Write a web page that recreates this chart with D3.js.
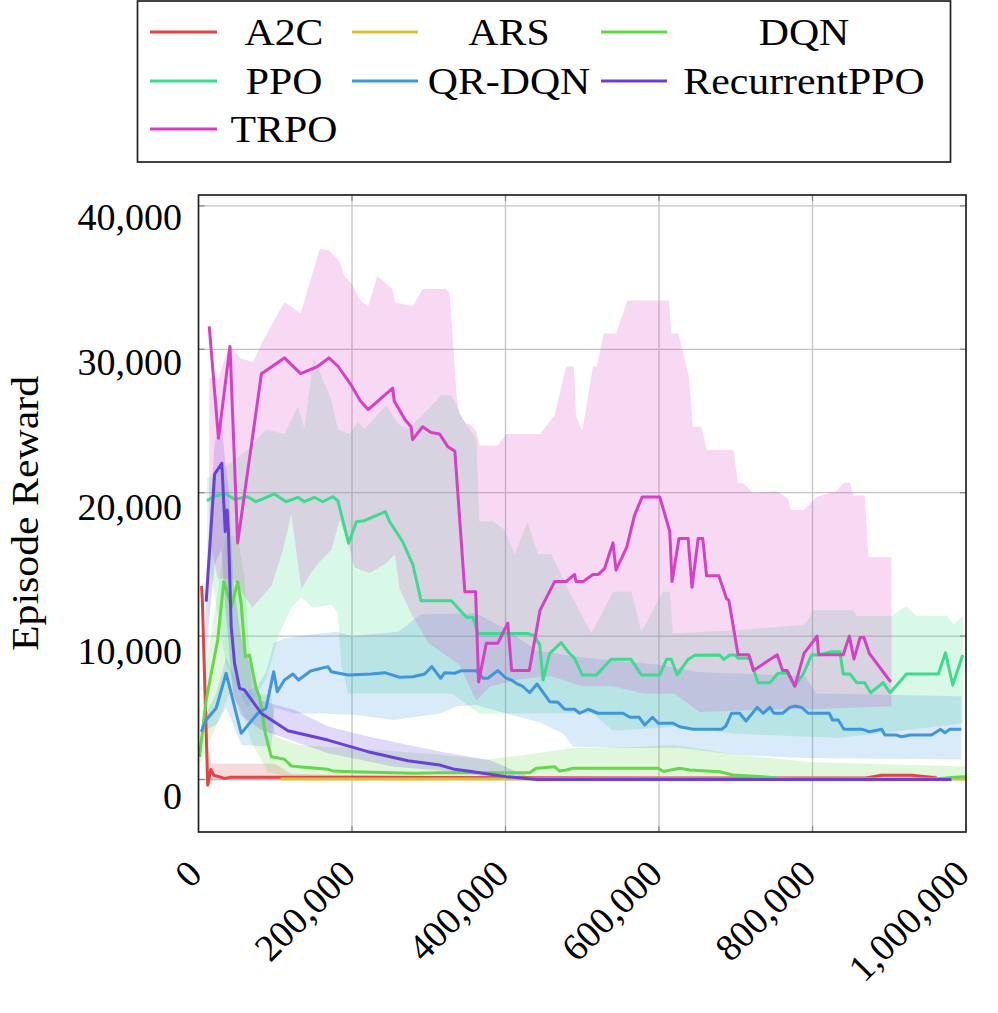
<!DOCTYPE html>
<html>
<head>
<meta charset="utf-8">
<script src="https://d3js.org/d3.v7.min.js"></script>
<style>
  body { margin: 0; background: #fff; }
  text { font-family: "Liberation Serif", serif; fill: #000; }
</style>
</head>
<body>
<div id="chart"></div>
<script>
// ---- data (environment steps, episode reward) ----
const seriesNames = ['A2C', 'ARS', 'DQN', 'PPO', 'QR-DQN', 'RecurrentPPO', 'TRPO'];
const seriesColors = ['#e04444', '#dcc03c', '#62d84a', '#3ddb8e', '#3f96dc', '#6a40da', '#d83fc4'];

const xTicks = [0, 200000, 400000, 600000, 800000, 1000000];
const yTicks = [0, 10000, 20000, 30000, 40000];

// A2C
const a2cX = [4000, 5000, 12000, 16000, 20000, 34000, 41000, 56000, 200000, 600000, 870000, 890000, 930000, 962000];
const a2cY = [13500, 12500, -400, 700, 300, 80, 150, 150, 150, 100, 100, 300, 300, 100];
const a2cUpX = [4000, 12000, 16000, 20000, 100000, 120000, 200000, 600000, 870000, 890000, 962000];
const a2cUpY = [13500, 2500, 1200, 1100, 1100, 400, 300, 200, 200, 400, 300];
const a2cLoX = [4000, 12000, 20000, 962000];
const a2cLoY = [13500, -500, 0, 0];

// ARS
const arsX = [107000, 440000, 1000000];
const arsY = [30, 30, 30];
const arsUpX = [107000, 1000000];
const arsUpY = [80, 80];
const arsLoX = [107000, 1000000];
const arsLoY = [0, 0];

// DQN
const dqnX = [1300, 10000, 25000, 33000, 43000, 51000, 55600, 61000, 66500, 75000, 79500, 87000, 94800, 112000, 120800, 134000, 168600, 175000, 199000, 281600, 314000, 431500, 440000, 449000, 464000, 470000, 479000, 488000, 599000, 605700, 627000, 640000, 679000, 696600, 735700, 757500, 780000, 960000, 985000, 1000000];
const dqnY = [1590, 5540, 9730, 13790, 12050, 13790, 12290, 8560, 8680, 6360, 5770, 3220, 1590, 1410, 940, 870, 710, 600, 540, 430, 470, 470, 780, 820, 890, 600, 660, 780, 780, 560, 780, 660, 540, 310, 200, 80, 0, 30, 150, 200];
const dqnUpX = [1300, 10000, 25000, 35000, 51000, 60000, 70000, 95000, 100000, 130000, 200000, 300000, 375000, 425000, 488000, 540000, 620000, 705000, 800000, 1000000];
const dqnUpY = [2000, 8000, 13000, 17000, 17000, 14000, 6000, 5900, 3000, 2400, 2200, 1800, 1400, 1700, 2200, 2200, 2400, 1700, 1200, 900];
const dqnLoX = [1300, 25000, 40000, 55000, 70000, 90000, 120000, 300000, 1000000];
const dqnLoY = [1000, 4000, 6000, 5000, 2500, 500, 200, 100, 0];

// PPO
const ppoX = [11000, 21000, 36000, 47000, 64000, 75000, 99000, 114000, 129500, 138000, 151000, 162000, 175000, 181600, 195600, 205600, 216000, 243400, 249000, 266000, 279400, 290000, 329500, 349000, 357600, 364000, 429000, 438000, 444600, 449000, 457600, 472600, 481500, 490000, 500000, 518500, 537600, 563500, 577000, 601000, 609800, 616000, 623600, 638000, 646700, 679000, 684500, 692300, 699000, 703300, 718400, 729000, 744500, 755000, 767000, 777000, 788000, 798800, 807500, 825000, 835700, 840000, 848800, 857500, 868000, 875700, 892000, 901000, 922600, 964000, 973300, 982700, 995700];
const ppoY = [19440, 19770, 19910, 19540, 19720, 19370, 19910, 19370, 19680, 19370, 19680, 19370, 19720, 19440, 16470, 17980, 18050, 18680, 17980, 16580, 14960, 12470, 12470, 11310, 11310, 10190, 10190, 10010, 9380, 6940, 8800, 9540, 8910, 8450, 7290, 7290, 8380, 8380, 7290, 7290, 8380, 8380, 7290, 8380, 8660, 8680, 8380, 8680, 8680, 8450, 8450, 6750, 6750, 7410, 7410, 6520, 7360, 8680, 8680, 8910, 8910, 7360, 7360, 6750, 6750, 6050, 6750, 6050, 7360, 7360, 8840, 6590, 8680];
const ppoUpX = [11000, 40000, 64000, 88000, 112000, 129500, 138000, 150000, 173000, 181600, 197000, 207700, 216000, 244700, 259900, 272900, 299000, 316000, 329500, 344600, 353000, 362000, 366000, 384000, 399000, 412000, 429000, 442000, 460000, 482000, 512000, 540000, 564000, 577000, 605000, 614000, 618000, 700000, 790000, 801000, 853000, 858000, 903000, 922000, 935500, 975000, 984000, 996000];
const ppoUpY = [21000, 22000, 23000, 24400, 24100, 26000, 24500, 29400, 26500, 24400, 24100, 25000, 24400, 26100, 24800, 24400, 25800, 26800, 26800, 25100, 24400, 23800, 18000, 18000, 17400, 15700, 18000, 15700, 15700, 13200, 10200, 13100, 13100, 10300, 13100, 13100, 10200, 10400, 10800, 11800, 11800, 11400, 11400, 12100, 11400, 11400, 10800, 11400];
const ppoLoX = [11000, 36000, 64000, 88000, 105600, 120800, 134000, 149000, 173000, 181600, 186000, 195000, 330000, 366000, 514000, 540000, 627000, 697000, 834000, 996000];
const ppoLoY = [16000, 8000, 5000, 7000, 10200, 12000, 12700, 12000, 12200, 11600, 8000, 6000, 6000, 4600, 4600, 3400, 3700, 3200, 2900, 3900];

// QR-DQN
const qrX = [3500, 10000, 23000, 36000, 55700, 77300, 88000, 98000, 102600, 112000, 123000, 130400, 146000, 168600, 173000, 194600, 225000, 242500, 262000, 279400, 294700, 304000, 315500, 320700, 333800, 342500, 362000, 370700, 377000, 390000, 401000, 407700, 414000, 422000, 431500, 441000, 457600, 468500, 477000, 490000, 496700, 507600, 520600, 553000, 562000, 574000, 581500, 591500, 599000, 618400, 627000, 644500, 681500, 687000, 694500, 705000, 713400, 727900, 735700, 744500, 749700, 761000, 770500, 777000, 785800, 794400, 821800, 826000, 833600, 841000, 865300, 874000, 890000, 894400, 909600, 916000, 927000, 955000, 966900, 972600, 979000, 994000];
const qrY = [3330, 4150, 4970, 7410, 3220, 4620, 4970, 7520, 6120, 6940, 7360, 6940, 7570, 7870, 7520, 7290, 7360, 7450, 7130, 7170, 7360, 7870, 7060, 7450, 7410, 7590, 7590, 7060, 7060, 7590, 7060, 6940, 6710, 6520, 6050, 6660, 5430, 5380, 4900, 4900, 4620, 4900, 4620, 4620, 4340, 4340, 3800, 4340, 3920, 3920, 3680, 3500, 3500, 3730, 4620, 4620, 4080, 5030, 4620, 5030, 4620, 4620, 5030, 5120, 5030, 4620, 4620, 4150, 4150, 3500, 3500, 3330, 3500, 3100, 3100, 2980, 3100, 3100, 3500, 3260, 3500, 3500];
const qrUpX = [3500, 10000, 23000, 36000, 56000, 77000, 88000, 98000, 110000, 130000, 180000, 200000, 260000, 290000, 362000, 400000, 440000, 500000, 600000, 650000, 790000, 805000, 994000];
const qrUpY = [3600, 4600, 6000, 8500, 6000, 6500, 7500, 9500, 9800, 10000, 10300, 10000, 10300, 11500, 11600, 10500, 9000, 8500, 8000, 7500, 7200, 6000, 5800];
const qrLoX = [3500, 10000, 23000, 36000, 56000, 95000, 99000, 125000, 162000, 205000, 255000, 314000, 337000, 362000, 401000, 444000, 475000, 488000, 540000, 627000, 705000, 790000, 994000];
const qrLoY = [3000, 3500, 3800, 5000, 2400, 2300, 5000, 4600, 4600, 4500, 4150, 4600, 5100, 5200, 4600, 4000, 3200, 2300, 2200, 2200, 1700, 1500, 1400];

// RecurrentPPO
const rppoX = [10000, 21000, 30400, 34800, 37400, 39000, 42600, 47000, 53500, 60000, 81700, 116500, 168600, 220700, 272900, 314000, 333800, 357600, 401000, 440000, 981000];
const rppoY = [12400, 21300, 22050, 17280, 18790, 17280, 10660, 8100, 6360, 6240, 4620, 3400, 2750, 1940, 1310, 1010, 710, 540, 200, 0, 0];
const rppoUpX = [10000, 21000, 30000, 35000, 40000, 45000, 55000, 82000, 125000, 169000, 221000, 314000, 380000, 436000, 981000];
const rppoUpY = [14000, 23500, 25000, 22000, 20000, 14000, 10000, 5500, 4850, 3700, 3000, 1950, 1350, 50, 50];
const rppoLoX = [10000, 21000, 30000, 35000, 45000, 55000, 82000, 169000, 255000, 334000, 400000, 981000];
const rppoLoY = [9000, 15000, 16000, 12000, 6000, 4500, 3450, 1830, 890, 540, 0, 0];

// TRPO
const trpoX = [14000, 26000, 41000, 51000, 82000, 112000, 133000, 155000, 170000, 182000, 199000, 211000, 221000, 253000, 255000, 269000, 277000, 279000, 292000, 303000, 314000, 325000, 334000, 347000, 361000, 365000, 375000, 390000, 403000, 408000, 431000, 445000, 464000, 479000, 490000, 492000, 501000, 514000, 521000, 529000, 540000, 544000, 558000, 568000, 578000, 601000, 614000, 617000, 626000, 638000, 643000, 651000, 657000, 662000, 678000, 688000, 691000, 703000, 717000, 723000, 754000, 761000, 767000, 777000, 789000, 806000, 808000, 840000, 848000, 854000, 862000, 867000, 874000, 902000];
const trpoY = [31600, 23800, 30200, 16500, 28300, 29400, 28300, 28800, 29400, 28800, 27500, 26400, 25800, 27300, 26400, 25100, 24600, 23700, 24600, 24200, 24100, 23200, 22900, 13100, 13100, 6800, 9500, 9500, 10900, 7600, 7600, 11800, 13800, 13800, 14300, 13800, 13800, 14300, 14300, 14700, 16500, 14600, 16200, 18400, 19700, 19700, 17300, 13800, 16800, 16800, 13400, 16800, 16800, 14200, 14200, 12600, 12500, 8700, 8700, 7600, 8700, 7600, 7600, 6500, 8800, 10000, 8700, 8700, 10000, 8400, 9900, 9900, 8800, 6800];
const trpoUpX = [14000, 26000, 40000, 54000, 71000, 82000, 112000, 133000, 158000, 170000, 184000, 190000, 199000, 211000, 221000, 233000, 253000, 256000, 269000, 279000, 292000, 323000, 327000, 332000, 336000, 340000, 349000, 353000, 362000, 366000, 390000, 401000, 445000, 464000, 479000, 489000, 492000, 500000, 514000, 519000, 528000, 544000, 559000, 613000, 616000, 625000, 639000, 644000, 655000, 662000, 697000, 703000, 709000, 722000, 753000, 768000, 772000, 789000, 805000, 831000, 841000, 849000, 853000, 868000, 873000, 903000];
const trpoUpY = [28000, 28000, 30300, 29400, 29100, 30400, 33300, 32500, 37000, 36900, 36100, 35100, 34600, 33400, 33000, 35100, 34200, 33300, 33100, 33000, 34200, 34200, 33900, 30200, 26900, 25500, 24800, 24800, 24300, 23300, 23300, 24100, 24100, 25400, 28800, 28800, 25300, 24300, 28800, 28800, 31100, 31100, 33400, 33400, 31100, 31100, 28100, 24600, 24600, 23000, 23000, 20700, 20700, 20000, 20100, 19600, 18800, 18800, 19700, 20100, 20700, 20700, 19800, 19800, 15500, 15500];
const trpoLoX = [14000, 25000, 45000, 70000, 95000, 110000, 121000, 134000, 149000, 160000, 173000, 184000, 195000, 203000, 223000, 245000, 256000, 262000, 277000, 300000, 340000, 362000, 380000, 420000, 460000, 500000, 540000, 580000, 620000, 653000, 700000, 750000, 800000, 850000, 903000];
const trpoLoY = [17000, 14000, 14000, 12000, 13500, 16000, 18500, 13300, 14600, 15300, 16000, 18100, 16500, 14800, 14400, 15100, 15700, 13300, 11600, 9500, 8000, 5500, 6500, 7000, 7200, 6500, 6500, 6000, 6000, 4700, 4800, 4900, 4900, 5000, 5100];

const lineXs = [a2cX, arsX, dqnX, ppoX, qrX, rppoX, trpoX];
const lineYs = [a2cY, arsY, dqnY, ppoY, qrY, rppoY, trpoY];
const upXs = [a2cUpX, arsUpX, dqnUpX, ppoUpX, qrUpX, rppoUpX, trpoUpX];
const upYs = [a2cUpY, arsUpY, dqnUpY, ppoUpY, qrUpY, rppoUpY, trpoUpY];
const loXs = [a2cLoX, arsLoX, dqnLoX, ppoLoX, qrLoX, rppoLoX, trpoLoX];
const loYs = [a2cLoY, arsLoY, dqnLoY, ppoLoY, qrLoY, rppoLoY, trpoLoY];

// ---- layout ----
const W = 998, H = 1013;
const plotL = 198.5, plotR = 966, plotT = 195, plotB = 832;
const fontSize = 38;
const lineW = 3;
const widen = 1.1; // letters of the original font run wider

const x = d3.scaleLinear().domain([0, 1000000]).range([plotL, plotR]);
const y = d3.scaleLinear().domain([-3661, 40760]).range([plotB, plotT]);
// tick labels sit on a slightly stretched scale in the original
const yLab = d3.scaleLinear().domain([0, 40000]).range([796.7, 217.5]);

const svg = d3.select('#chart').append('svg')
    .attr('width', W).attr('height', H)
    .style('display', 'block');

svg.append('defs').append('clipPath').attr('id', 'plotclip')
  .append('rect')
    .attr('x', plotL).attr('y', plotT)
    .attr('width', plotR - plotL).attr('height', plotB - plotT);

// grid
const grid = svg.append('g');
grid.selectAll('line.gx')
  .data(xTicks.slice(1, -1))
  .enter().append('line')
    .attr('x1', d => x(d)).attr('x2', d => x(d))
    .attr('y1', plotT).attr('y2', plotB)
    .attr('stroke', '#c4c4c4').attr('stroke-width', 1.3);
grid.selectAll('line.gy')
  .data(yTicks)
  .enter().append('line')
    .attr('x1', plotL).attr('x2', plotR)
    .attr('y1', d => y(d)).attr('y2', d => y(d))
    .attr('stroke', '#c4c4c4').attr('stroke-width', 1.3);

// tick marks (inside, both sides)
const tk = svg.append('g').attr('stroke', '#8a8a8a').attr('stroke-width', 1.3);
xTicks.slice(1, -1).forEach(v => {
  tk.append('line').attr('x1', x(v)).attr('x2', x(v)).attr('y1', plotB).attr('y2', plotB - 6);
  tk.append('line').attr('x1', x(v)).attr('x2', x(v)).attr('y1', plotT).attr('y2', plotT + 6);
});
yTicks.forEach(v => {
  tk.append('line').attr('x1', plotL).attr('x2', plotL + 6).attr('y1', y(v)).attr('y2', y(v));
  tk.append('line').attr('x1', plotR).attr('x2', plotR - 6).attr('y1', y(v)).attr('y2', y(v));
});

const plot = svg.append('g').attr('clip-path', 'url(#plotclip)');

// shaded bands: upper edge forward, lower edge back
const band = d3.line().x(d => x(d[0])).y(d => y(d[1])).curve(d3.curveLinearClosed);
seriesNames.forEach((name, i) => {
  const up = upXs[i].map((v, j) => [v, upYs[i][j]]);
  const lo = loXs[i].map((v, j) => [v, loYs[i][j]]).reverse();
  plot.append('path')
      .attr('d', band(up.concat(lo)))
      .attr('fill', seriesColors[i])
      .attr('fill-opacity', 0.2)
      .attr('stroke', 'none');
});

// mean lines
const line = d3.line().x(d => x(d[0])).y(d => y(d[1]));
seriesNames.forEach((name, i) => {
  const pts = lineXs[i].map((v, j) => [v, lineYs[i][j]]);
  plot.append('path')
      .attr('d', line(pts))
      .attr('fill', 'none')
      .attr('stroke', seriesColors[i])
      .attr('stroke-width', lineW)
      .attr('stroke-linejoin', 'round');
});

// frame
svg.append('rect')
    .attr('x', plotL).attr('y', plotT)
    .attr('width', plotR - plotL).attr('height', plotB - plotT)
    .attr('fill', 'none').attr('stroke', '#222').attr('stroke-width', 1.7);

// y tick labels
const fmt = d3.format(',');
svg.selectAll('text.ylab')
  .data(yTicks)
  .enter().append('text')
    .attr('x', 182)
    .attr('y', d => yLab(d) + 12.5)
    .attr('text-anchor', 'end')
    .style('font-size', fontSize + 'px')
    .text(d => fmt(d));

// x tick labels, rotated 45 deg
svg.selectAll('text.xlab')
  .data(xTicks)
  .enter().append('text')
    .attr('transform', d => `translate(${x(d) + 5.5},876) rotate(-45)`)
    .attr('text-anchor', 'end')
    .style('font-size', fontSize + 'px')
    .text(d => fmt(d));

// stretch a word to the wider look of the original font
function stretch(sel) {
  sel.each(function() {
    const w = this.getComputedTextLength();
    d3.select(this).attr('textLength', w * widen).attr('lengthAdjust', 'spacingAndGlyphs');
  });
}

// y axis title
svg.append('text')
    .attr('transform', `translate(38,${(plotT + plotB) / 2}) rotate(-90)`)
    .attr('text-anchor', 'middle')
    .style('font-size', fontSize + 'px')
    .text('Episode Reward')
    .call(stretch);

// legend
const lg = svg.append('g');
lg.append('rect')
    .attr('x', 137.5).attr('y', 1)
    .attr('width', 813).attr('height', 161)
    .attr('fill', '#fff').attr('stroke', '#222').attr('stroke-width', 1.7);
const colLine = [[150, 217], [352, 418], [601, 667]];
const colText = [284, 509, 804];
const rowY = [32, 81, 129];
seriesNames.forEach((name, i) => {
  const c = i % 3, r = Math.floor(i / 3);
  lg.append('line')
      .attr('x1', colLine[c][0]).attr('x2', colLine[c][1])
      .attr('y1', rowY[r]).attr('y2', rowY[r])
      .attr('stroke', seriesColors[i]).attr('stroke-width', lineW);
  lg.append('text')
      .attr('x', colText[c]).attr('y', rowY[r] + 12.5)
      .attr('text-anchor', 'middle')
      .style('font-size', fontSize + 'px')
      .text(name)
      .call(stretch);
});
</script>
</body>
</html>
